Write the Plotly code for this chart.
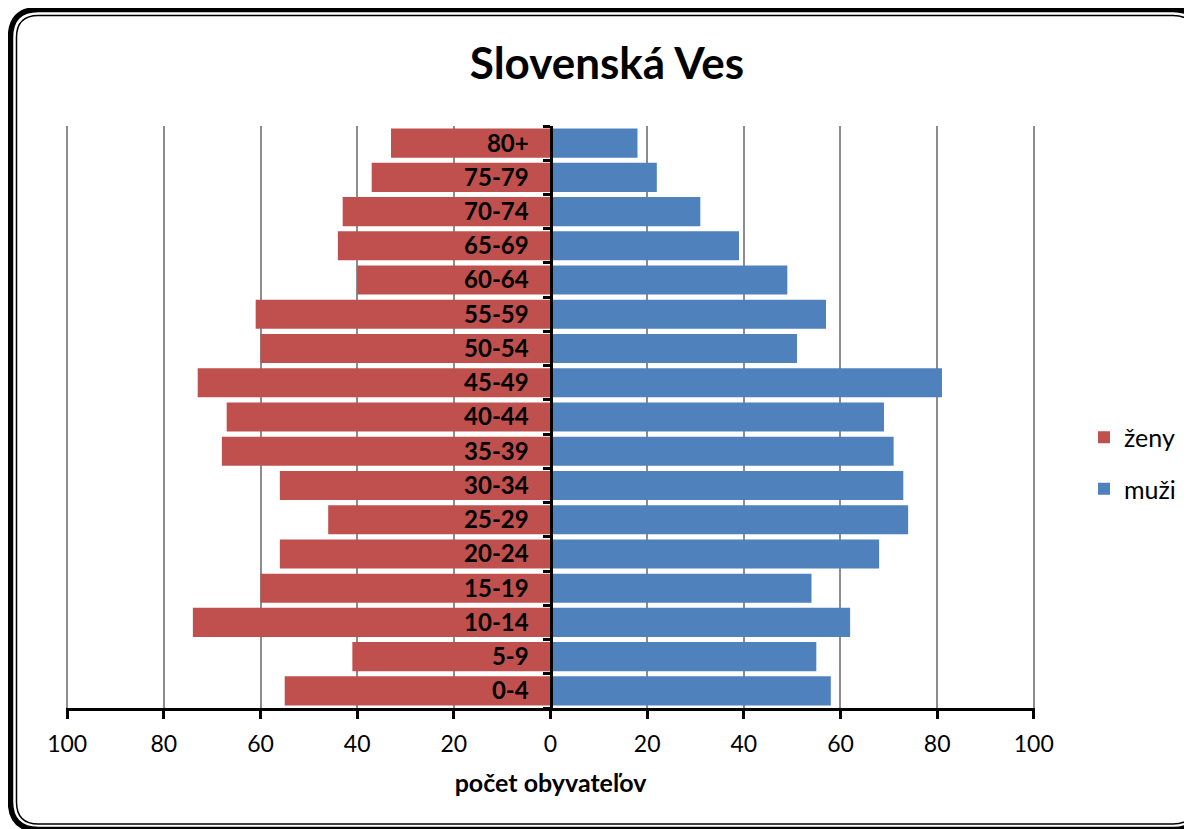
import plotly.graph_objects as go

categories = ["0-4", "5-9", "10-14", "15-19", "20-24", "25-29", "30-34", "35-39",
              "40-44", "45-49", "50-54", "55-59", "60-64", "65-69", "70-74", "75-79", "80+"]
zeny = [55, 41, 74, 60, 56, 46, 56, 68, 67, 73, 60, 61, 40, 44, 43, 37, 33]
muzi = [58, 55, 62, 54, 68, 74, 73, 71, 69, 81, 51, 57, 49, 39, 31, 22, 18]
tick_vals = [-100, -80, -60, -40, -20, 0, 20, 40, 60, 80, 100]
tick_text = ["100", "80", "60", "40", "20", "0", "20", "40", "60", "80", "100"]

OFF = 8  # browser default body margin
W, H = 1192 - OFF, 829 - OFF
L, R, T, B = 66 - OFF, 1035 - OFF, 126 - OFF, 708 - OFF
FONT = "Lato"

fig = go.Figure()
fig.add_trace(go.Bar(y=categories, x=[-v for v in zeny], orientation="h", name="ženy",
                     marker=dict(color="#C0504D", line=dict(width=0)), legendgroup="z",
                     customdata=zeny, hovertemplate="%{y}: %{customdata}<extra>ženy</extra>"))
fig.add_trace(go.Bar(y=categories, x=muzi, orientation="h", name="muži",
                     marker=dict(color="#4F81BD", line=dict(width=0)), legendgroup="m",
                     hovertemplate="%{y}: %{x}<extra>muži</extra>"))


def px2p(px, py):
    px -= OFF
    py -= OFF
    return ((px - L) / (R - L), (B - py) / (B - T))


def rrect(l, t, r, b, rad):
    def P(x, y):
        a, c = px2p(x, y)
        return f"{a:.5f},{c:.5f}"
    return (f"M {P(l + rad, t)} L {P(r - rad, t)} Q {P(r, t)} {P(r, t + rad)} "
            f"L {P(r, b - rad)} Q {P(r, b)} {P(r - rad, b)} L {P(l + rad, b)} "
            f"Q {P(l, b)} {P(l, b - rad)} L {P(l, t + rad)} Q {P(l, t)} {P(l + rad, t)} Z")


shapes = [
    dict(type="path", xref="paper", yref="paper", path=rrect(10.5, 9.5, 1201, 829.5, 28),
         line=dict(color="black", width=5.5), layer="above"),
    dict(type="path", xref="paper", yref="paper", path=rrect(16.5, 15.5, 1195, 824, 22),
         line=dict(color="black", width=1.5), layer="above"),
]

fig.update_layout(
    width=W, height=H,
    margin=dict(l=L, r=W - R, t=T, b=H - B, autoexpand=False),
    paper_bgcolor="white", plot_bgcolor="white",
    barmode="relative", bargap=0.15,
    font=dict(family=FONT, color="black"),
    title=dict(text="<b>Slovenská Ves</b>", x=(607 - OFF) / W, xanchor="center",
               y=1 - (64 - OFF) / H, yanchor="middle", font=dict(family=FONT, size=44, color="black")),
    legend=dict(xref="container", yref="container",
                x=(1084 - OFF) / W, xanchor="left", y=1 - (463 - OFF) / H, yanchor="middle",
                font=dict(family=FONT, size=25, color="black"), traceorder="grouped",
                tracegroupgap=16, itemwidth=30, bgcolor="rgba(0,0,0,0)"),
    shapes=shapes,
    showlegend=True,
)

fig.update_xaxes(range=[-100.25, 100.25], tickvals=tick_vals, ticktext=tick_text,
                 showgrid=True, gridcolor="#8c8c8c", gridwidth=1.5, zeroline=False,
                 showline=True, linecolor="black", linewidth=3,
                 ticks="outside", ticklen=8, tickwidth=3, tickcolor="black",
                 ticklabelstandoff=5, automargin=False,
                 tickfont=dict(family=FONT, size=23, color="black"),
                 title=dict(text="<b>počet obyvateľov</b>", standoff=19,
                            font=dict(family=FONT, size=25, color="black")))

fig.update_yaxes(type="category", categoryorder="array", categoryarray=categories,
                 range=[-0.5, len(categories) - 0.5], anchor="free", position=0.5,
                 showgrid=False, zeroline=False, showline=True, linecolor="black", linewidth=3,
                 ticks="outside", tickson="boundaries", ticklen=7, tickwidth=3, tickcolor="black",
                 ticklabelstandoff=16, automargin=False,
                 tickfont=dict(family=FONT, size=24, color="black", weight="bold"))

fig.write_html("out.html")
